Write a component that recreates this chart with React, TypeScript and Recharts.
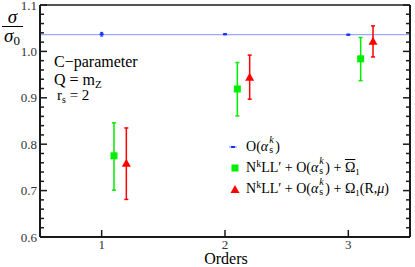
import React from 'react';
import { ComposedChart, Scatter, XAxis, YAxis, ErrorBar, ReferenceLine } from 'recharts';

// ---- data ----
const orders = [1, 2, 3];
const fixedOrderX = [1, 2, 3];
const fixedOrderValues = [1.037, 1.037, 1.036];
const fixedOrderErr = [0.004, 0.001, 0.001];

const nllGreenX = [1.1, 2.1, 3.1];
const nllGreenValues = [0.775, 0.919, 0.984];
const nllGreenUpper = [0.846, 0.976, 1.03];
const nllGreenLower = [0.701, 0.861, 0.937];

const nllRedX = [1.2, 2.2, 3.2];
const nllRedValues = [0.758, 0.943, 1.021];
const nllRedUpper = [0.835, 0.992, 1.055];
const nllRedLower = [0.681, 0.897, 0.988];

const referenceLevel = 1.036;

const yTicks = [
  0.6, 0.62, 0.64, 0.66, 0.68, 0.7, 0.72, 0.74, 0.76, 0.78, 0.8, 0.82, 0.84, 0.86, 0.88,
  0.9, 0.92, 0.94, 0.96, 0.98, 1.0, 1.02, 1.04, 1.06, 1.08, 1.1,
];
const xTicks = orders;

// ---- build tables ----
const blueData = fixedOrderX.map((x, i) => ({ x, y: fixedOrderValues[i], err: [fixedOrderErr[i], fixedOrderErr[i]] }));
const greenData = nllGreenX.map((x, i) => ({
  x,
  y: nllGreenValues[i],
  err: [nllGreenValues[i] - nllGreenLower[i], nllGreenUpper[i] - nllGreenValues[i]],
}));
const redData = nllRedX.map((x, i) => ({
  x,
  y: nllRedValues[i],
  err: [nllRedValues[i] - nllRedLower[i], nllRedUpper[i] - nllRedValues[i]],
}));

const GREEN = '#00ee00';
const RED = '#ff0000';
const BLUE = '#1030ff';
const LINEBLUE = '#8494ff';
const AXIS = '#1a1a1a';
const FONT = '"Liberation Serif", "DejaVu Serif", serif';

const isMajor = (v: number) => Math.abs(v * 10 - Math.round(v * 10)) < 1e-6;

const LeftTick = (p: any) => {
  const v = p.payload.value;
  const major = isMajor(v);
  return (
    <g>
      <line x1={p.x} x2={p.x + (major ? 7 : 4)} y1={p.y} y2={p.y} stroke={AXIS} strokeWidth={1.5} />
      {major && (
        <text x={p.x - 3} y={p.y} dy="0.35em" textAnchor="end" fontSize={13} fill="#333" fontFamily={FONT}>
          {v.toFixed(1)}
        </text>
      )}
    </g>
  );
};

const RightTick = (p: any) => {
  const v = p.payload.value;
  const major = isMajor(v);
  return <line x1={p.x} x2={p.x - (major ? 7 : 4)} y1={p.y} y2={p.y} stroke={AXIS} strokeWidth={1.5} />;
};

const BottomTick = (p: any) => (
  <g>
    <line x1={p.x} x2={p.x} y1={p.y} y2={p.y - 7} stroke={AXIS} strokeWidth={1.5} />
    <text x={p.x} y={p.y + 3} dy="0.71em" textAnchor="middle" fontSize={13} fill="#333" fontFamily={FONT}>
      {p.payload.value}
    </text>
  </g>
);

const SquareShape = (p: any) => <rect x={p.cx - 3.5} y={p.cy - 3.5} width={7} height={7} fill={GREEN} />;
const TriangleShape = (p: any) => (
  <path d={`M${p.cx},${p.cy - 5} L${p.cx + 4.5},${p.cy + 3} L${p.cx - 4.5},${p.cy + 3} Z`} fill={RED} />
);
const DotShape = (p: any) => <rect x={p.cx - 2} y={p.cy - 1} width={4} height={2} fill={BLUE} />;

const AlphaSK = () => (
  <span>
    (<i>α</i>
    <span style={{ display: 'inline-block', position: 'relative', width: 7, height: 10 }}>
      <i style={{ position: 'absolute', left: 1, top: -6, fontSize: 10, lineHeight: '10px' }}>k</i>
      <span style={{ position: 'absolute', left: 1, top: 4, fontSize: 10, lineHeight: '10px' }}>s</span>
    </span>
    )
  </span>
);

const NkLL = () => (
  <span>
    N<span style={{ fontSize: 10, position: 'relative', top: -5 }}>k</span>LL′
  </span>
);

const legendRow: React.CSSProperties = {
  position: 'absolute',
  left: 0,
  height: 20,
  display: 'flex',
  alignItems: 'center',
  whiteSpace: 'nowrap',
  lineHeight: '16px',
};

export default function App() {
  return (
    <div style={{ position: 'absolute', left: 0, top: 0, width: 415, height: 267, background: '#fff', fontFamily: FONT }}>
      <ComposedChart width={415} height={267} margin={{ top: 0, right: 0, bottom: 0, left: 0 }}>
        <XAxis
          xAxisId="b"
          dataKey="x"
          type="number"
          domain={[0.5, 3.5]}
          ticks={xTicks}
          allowDataOverflow
          height={30}
          tickSize={0}
          tickMargin={0}
          tickLine={false}
          axisLine={{ stroke: AXIS, strokeWidth: 2 }}
          tick={<BottomTick />}
          interval={0}
        />
        <XAxis
          xAxisId="t"
          orientation="top"
          dataKey="x"
          type="number"
          domain={[0.5, 3.5]}
          allowDataOverflow
          height={5}
          tick={false}
          tickLine={false}
          axisLine={{ stroke: AXIS, strokeWidth: 1.5 }}
        />
        <YAxis
          yAxisId="l"
          dataKey="y"
          type="number"
          domain={[0.6, 1.1]}
          ticks={yTicks}
          allowDataOverflow
          width={40}
          tickSize={0}
          tickMargin={0}
          tickLine={false}
          interval={0}
          axisLine={{ stroke: AXIS, strokeWidth: 2 }}
          tick={<LeftTick />}
        />
        <YAxis
          yAxisId="r"
          orientation="right"
          dataKey="y"
          type="number"
          domain={[0.6, 1.1]}
          ticks={yTicks}
          allowDataOverflow
          width={5}
          tickSize={0}
          tickMargin={0}
          tickLine={false}
          interval={0}
          axisLine={{ stroke: AXIS, strokeWidth: 2 }}
          tick={<RightTick />}
        />
        <ReferenceLine xAxisId="t" yAxisId="r" y={referenceLevel} stroke={LINEBLUE} strokeWidth={1} ifOverflow="extendDomain" />
        <Scatter xAxisId="b" yAxisId="l" data={blueData} dataKey="y" shape={<DotShape />} isAnimationActive={false}>
          <ErrorBar dataKey="err" direction="y" width={1.5} stroke={BLUE} strokeWidth={1} isAnimationActive={false} />
        </Scatter>
        <Scatter xAxisId="b" yAxisId="l" data={greenData} dataKey="y" shape={<SquareShape />} isAnimationActive={false}>
          <ErrorBar dataKey="err" direction="y" width={2} stroke={GREEN} strokeWidth={1.5} isAnimationActive={false} />
        </Scatter>
        <Scatter xAxisId="b" yAxisId="l" data={redData} dataKey="y" shape={<TriangleShape />} isAnimationActive={false}>
          <ErrorBar dataKey="err" direction="y" width={2} stroke={RED} strokeWidth={1.5} isAnimationActive={false} />
        </Scatter>
      </ComposedChart>

      {/* y-axis label: sigma / sigma0 */}
      <div style={{ position: 'absolute', left: 2, top: 8, width: 21, textAlign: 'center', fontSize: 19, lineHeight: '17px' }}>
        <div style={{ borderBottom: '1.5px solid #000', fontStyle: 'italic', paddingBottom: 1 }}>σ</div>
        <div style={{ whiteSpace: 'nowrap', marginLeft: -1 }}>
          <i>σ</i>
          <span style={{ fontSize: 13, position: 'relative', top: 3 }}>0</span>
        </div>
      </div>

      {/* x-axis label */}
      <div style={{ position: 'absolute', left: 0, width: 452, top: 251, textAlign: 'center', fontSize: 16, lineHeight: '16px' }}>
        Orders
      </div>

      {/* annotations */}
      <div style={{ position: 'absolute', left: 54, top: 53, fontSize: 16, lineHeight: '18px', whiteSpace: 'nowrap' }}>C−parameter</div>
      <div style={{ position: 'absolute', left: 54, top: 71, fontSize: 16, lineHeight: '18px', whiteSpace: 'nowrap' }}>
        Q = m<span style={{ fontSize: 11, position: 'relative', top: 3 }}>Z</span>
      </div>
      <div style={{ position: 'absolute', left: 57, top: 86, fontSize: 15, lineHeight: '18px', whiteSpace: 'nowrap' }}>
        r<span style={{ fontSize: 10, position: 'relative', top: 3 }}>s</span> = 2
      </div>

      {/* legend */}
      <div style={{ position: 'absolute', left: 226, top: 0, fontSize: 14 }}>
        <div style={{ ...legendRow, top: 137 }}>
          <svg width={16} height={10} style={{ marginRight: 4 }}>
            <line x1={3} x2={11} y1={5} y2={5} stroke={LINEBLUE} strokeWidth={1} />
            <rect x={5} y={4} width={4} height={2} fill={BLUE} />
          </svg>
          <span>
            O<AlphaSK />
          </span>
        </div>
        <div style={{ ...legendRow, top: 158 }}>
          <svg width={16} height={10} style={{ marginRight: 4 }}>
            <rect x={5.5} y={1.5} width={7} height={7} fill={GREEN} />
          </svg>
          <span>
            <NkLL /> + O<AlphaSK /> +{' '}
            <span style={{ textDecoration: 'overline' }}>Ω</span>
            <span style={{ fontSize: 9, position: 'relative', top: 3 }}>1</span>
          </span>
        </div>
        <div style={{ ...legendRow, top: 179 }}>
          <svg width={16} height={10} style={{ marginRight: 4 }}>
            <path d="M9,1 L13.5,9 L4.5,9 Z" fill={RED} />
          </svg>
          <span>
            <NkLL /> + O<AlphaSK /> + Ω<span style={{ fontSize: 9, position: 'relative', top: 3 }}>1</span>(R,<i>μ</i>)
          </span>
        </div>
      </div>
    </div>
  );
}
